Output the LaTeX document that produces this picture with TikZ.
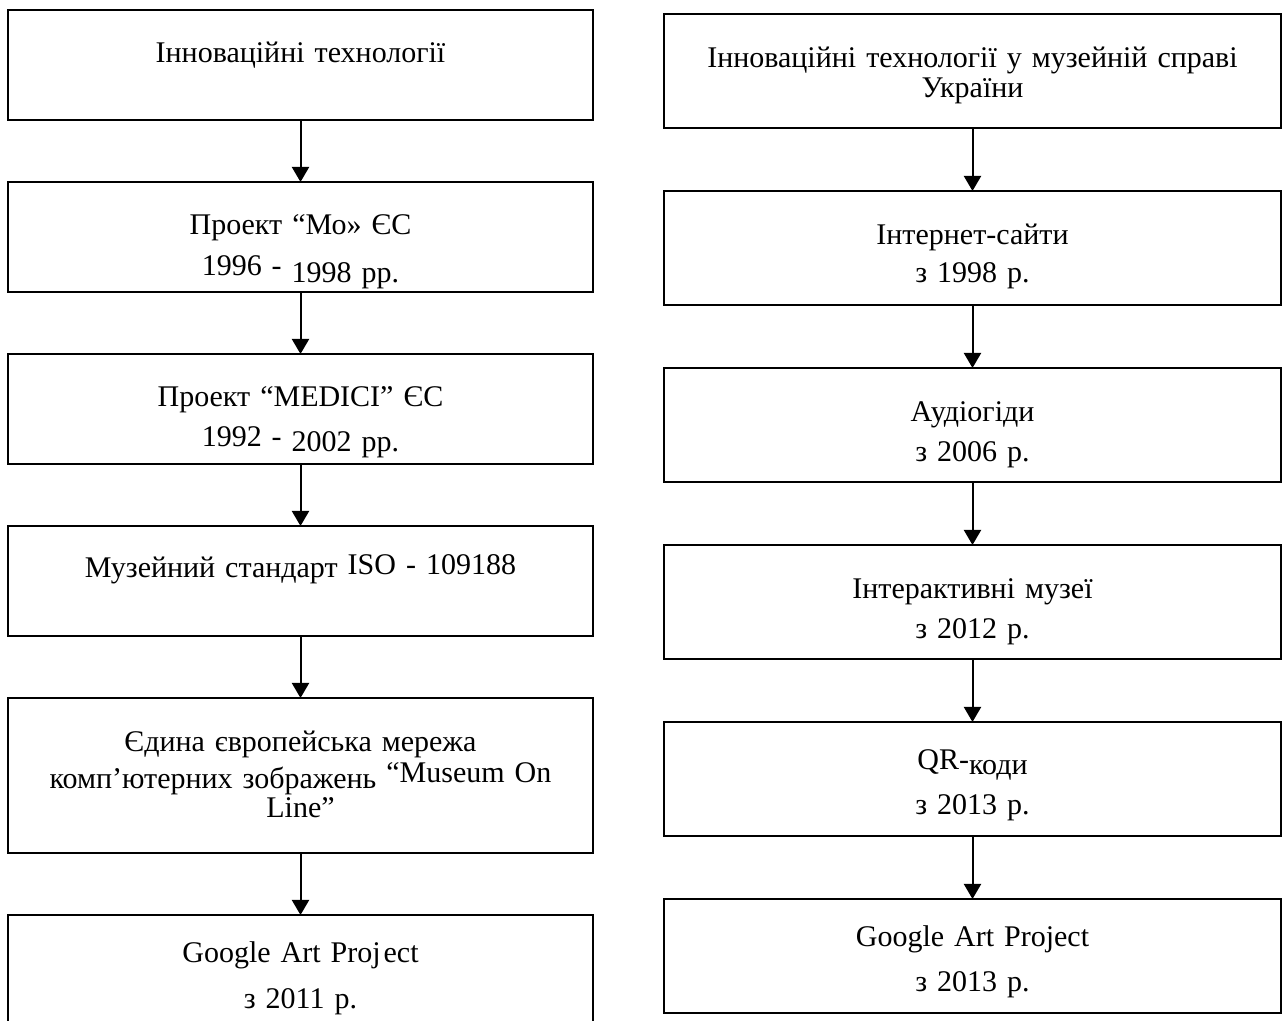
\documentclass[tikz,border=0pt]{standalone}
\usepackage{fontspec}
\setmainfont{Liberation Serif}
\usepackage{tikz}
\usetikzlibrary{positioning,arrows.meta}
\setlength{\lineskiplimit}{-\maxdimen}

\begin{document}
\begin{tikzpicture}[x=0.5pt, y=-0.5pt, node distance={31pt}, line width=1pt,
  >={Triangle[width=8.5pt,length=7.5pt]},
  main/.style = {draw, rectangle, inner sep=0pt, outer sep=0pt, align=center, font=\fontsize{15pt}{15pt}\selectfont},
  lmain/.style = {main, text width=292.5pt, text height=26.5pt, text depth=28.5pt},
  rmain/.style = {main, text width=308.5pt, text height=27pt, text depth=30pt}]
\useasboundingbox (0,0) rectangle (1282,1021);
\clip (0,0) rectangle (1282,1021);

% left column
\node[lmain, anchor=north] (1) at (300.5,10) {Інноваційні технології};
\node[lmain] (2) [below=of 1] {Проект “Мо» ЄС\\[6pt] \raisebox{3.5pt}{1996 -} 1998 рр.};
\node[lmain] (3) [below=of 2] {Проект “MEDICI” ЄС\\[5.5pt] \raisebox{2.5pt}{1992 -} 2002 рр.};
\node[lmain, text height=26pt, text depth=29pt] (4) [below=of 3] {Музейний стандарт \raisebox{1.5pt}{ISO - 109188}};
\node[lmain, text height=27pt, text depth=50.5pt] (5) [below=of 4] {Єдина європейська мережа\\[1pt] комп’ютерних зображень \raisebox{3pt}{“Museum On}\\[-0.5pt] Line”};
\node[lmain, text height=24pt, text depth=31pt] (6) [below=of 5] {Google Art Proj\kern1.5pt ect\\[8pt] з 2011 р.};

% right column
\node[rmain, anchor=north] (7) at (972.5,14) {Інноваційні технології у музейній справі\\ України};
\node[rmain] (8) [below=31.5pt of 7] {Інтернет-сайти\\[4pt] з 1998 р.};
\node[rmain] (9) [below=31.5pt of 8] {Аудіогіди\\[5pt] з 2006 р.};
\node[rmain] (10) [below=31.5pt of 9] {Інтерактивні музеї\\[5pt] з 2012 р.};
\node[rmain, text height=26.5pt, text depth=30.5pt] (11) [below=31.5pt of 10] {\raisebox{2.5pt}{QR-}коди\\[5pt] з 2013 р.};
\node[rmain, text height=24pt, text depth=33pt] (12) [below=31.5pt of 11] {Google Art Project\\[7.5pt] з 2013 р.};

\draw[->] (1) -- (2);
\draw[->] (2) -- (3);
\draw[->] (3) -- (4);
\draw[->] (4) -- (5);
\draw[->] (5) -- (6);
\draw[->] (7) -- (8);
\draw[->] (8) -- (9);
\draw[->] (9) -- (10);
\draw[->] (10) -- (11);
\draw[->] (11) -- (12);

\end{tikzpicture}
\end{document}
